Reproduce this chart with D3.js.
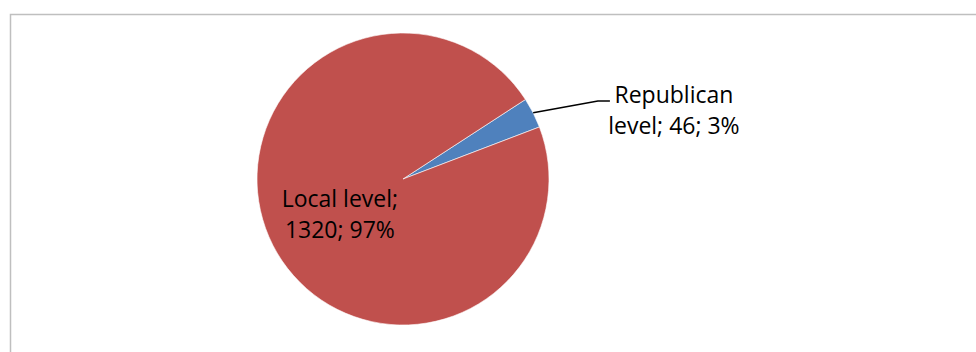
<!DOCTYPE html>
<html>
<head>
<meta charset="utf-8">
<script src="https://cdn.jsdelivr.net/npm/d3@7/dist/d3.min.js"></script>
<style>
  html, body { margin: 0; padding: 0; background: #fff; }
  svg { display: block; }
  .lbl { font-family: "Open Sans", "Noto Sans", sans-serif; font-size: 23px; fill: #000; }
</style>
</head>
<body>
<svg id="chart" width="976" height="352"></svg>
<script>
// chart data
const categories = ['Republican level', 'Local level'];
const values = [46, 1320];
const labelBreaks = [1, 2]; // words on first label line

const WIDTH = 976;
const HEIGHT = 352;
const CX = 403;
const CY = 179;
const RADIUS = 146;
const START_DEG = 57;
const COLORS = ['#4F81BD', '#C0504D'];

const svg = d3.select('#chart');

// chart area frame (only top and left edges show in the crop)
svg.append('path')
  .attr('d', `M10.5,${HEIGHT} V14.5 H${WIDTH}`)
  .attr('fill', 'none')
  .attr('stroke', '#BFBFBF')
  .attr('stroke-width', 1.5);

const total = d3.sum(values);
const rows = categories.map((name, i) => ({ name, value: values[i], index: i }));

const start = START_DEG * Math.PI / 180;
const pie = d3.pie()
  .value((d) => d.value)
  .sort(null)
  .startAngle(start)
  .endAngle(start + 2 * Math.PI);

const arcs = pie(rows);
const arc = d3.arc().innerRadius(0).outerRadius(RADIUS);
const color = d3.scaleOrdinal().domain(categories).range(COLORS);

const g = svg.append('g').attr('transform', `translate(${CX},${CY})`);

g.selectAll('path.slice')
  .data(arcs)
  .join('path')
  .attr('class', 'slice')
  .attr('d', arc)
  .attr('fill', (d) => color(d.data.name))
  .attr('stroke', '#fff')
  .attr('stroke-width', 0.6);

function labelLines(d) {
  const pct = Math.round(d.data.value / total * 100);
  const words = `${d.data.name}; ${d.data.value}; ${pct}%`.split(' ');
  const n = labelBreaks[d.data.index];
  return [words.slice(0, n).join(' '), words.slice(n).join(' ')];
}

const LINE_H = 31;

arcs.forEach((d) => {
  const mid = (d.startAngle + d.endAngle) / 2;
  const lines = labelLines(d);
  if (d.data.value / total < 0.1) {
    // outside label with leader line
    const p0 = [Math.sin(mid) * RADIUS, -Math.cos(mid) * RADIUS];
    const p1 = [RADIUS * 1.335, -RADIUS * 0.535];
    const p2 = [p1[0] + 12, p1[1]];
    g.append('polyline')
      .attr('points', [p0, p1, p2].map((p) => p.join(',')).join(' '))
      .attr('fill', 'none')
      .attr('stroke', '#000')
      .attr('stroke-width', 1.5);
    const tx = p2[0] + 64;
    const ty = p1[1] + 2;
    g.append('text')
      .attr('class', 'lbl')
      .attr('text-anchor', 'middle')
      .selectAll('tspan')
      .data(lines)
      .join('tspan')
      .attr('x', tx)
      .attr('y', (t, i) => ty + i * LINE_H)
      .text((t) => t);
  } else {
    const r = RADIUS * 0.485;
    const c = [Math.sin(mid) * r, -Math.cos(mid) * r];
    g.append('text')
      .attr('class', 'lbl')
      .attr('text-anchor', 'middle')
      .selectAll('tspan')
      .data(lines)
      .join('tspan')
      .attr('x', c[0])
      .attr('y', (t, i) => c[1] - 4 + i * LINE_H)
      .text((t) => t);
  }
});
</script>
</body>
</html>
